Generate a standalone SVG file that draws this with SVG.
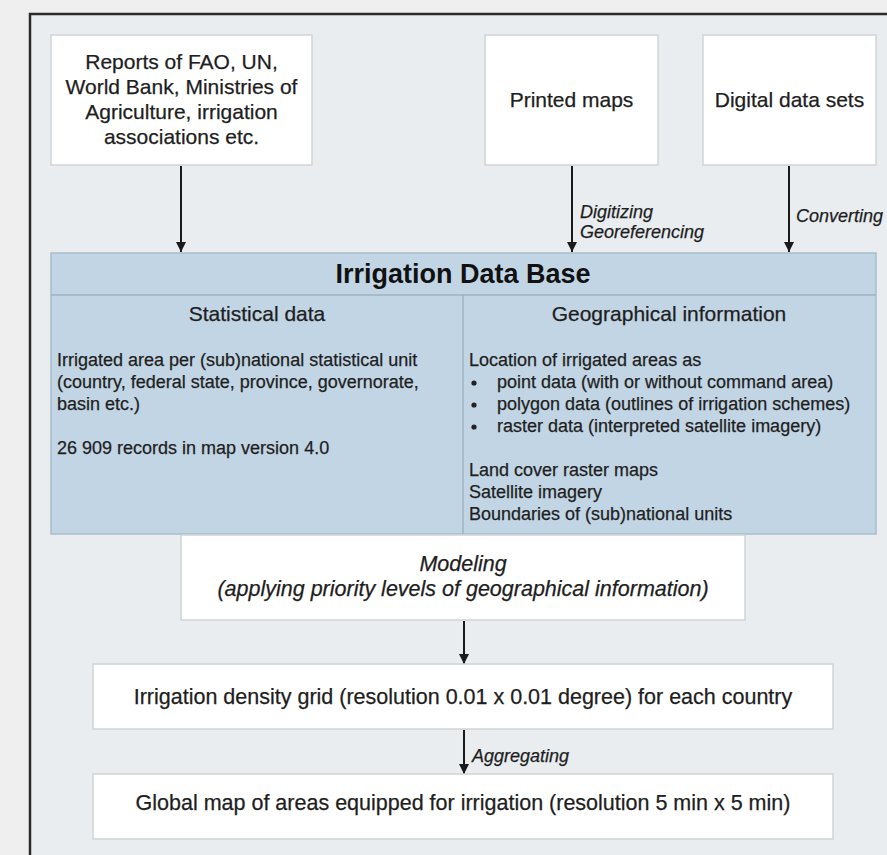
<svg xmlns="http://www.w3.org/2000/svg" width="887" height="855" viewBox="0 0 887 855">
<defs>
<marker id="ah" viewBox="0 0 10 10" refX="10" refY="5" markerWidth="10" markerHeight="10" markerUnits="userSpaceOnUse" orient="auto">
<path d="M0,0 L10,5 L0,10 z" fill="#1a1a1a"/>
</marker>
<style>
text{font-family:"Liberation Sans",Arial,sans-serif;fill:#1e1e1e;stroke:#1e1e1e;stroke-width:0.25}
.box{fill:#ffffff;stroke:#d0d3d6;stroke-width:1.5}
.t21{font-size:21px}
.t215{font-size:21.5px}
.t18{font-size:18px}
.c{text-anchor:middle}
.it{font-style:italic}
.conn{stroke:#1a1a1a;stroke-width:2;fill:none}
</style>
</defs>
<rect x="0" y="0" width="887" height="855" fill="#efefef"/>
<rect x="30" y="14" width="870" height="860" fill="#e9edf0" stroke="#2a2a2a" stroke-width="2.5"/>

<g id="connectors">
<line class="conn" x1="181" y1="166" x2="181" y2="252" marker-end="url(#ah)"/>
<line class="conn" x1="572" y1="166" x2="572" y2="252" marker-end="url(#ah)"/>
<line class="conn" x1="789" y1="166" x2="789" y2="252" marker-end="url(#ah)"/>
<line class="conn" x1="464" y1="621" x2="464" y2="664" marker-end="url(#ah)"/>
<line class="conn" x1="464" y1="730" x2="464" y2="774" marker-end="url(#ah)"/>
<text class="t18 it" x="580" y="218">Digitizing</text>
<text class="t18 it" x="580" y="238">Georeferencing</text>
<text class="t18 it" x="796" y="222">Converting</text>
<text class="t18 it" x="472" y="762">Aggregating</text>
</g>

<g id="reports">
<rect class="box" x="51" y="35" width="261" height="130"/>
<text class="t21 c" x="181.5" y="69">Reports of FAO, UN,</text>
<text class="t21 c" x="181.5" y="94">World Bank, Ministries of</text>
<text class="t21 c" x="181.5" y="119">Agriculture, irrigation</text>
<text class="t21 c" x="181.5" y="144">associations etc.</text>
</g>

<g id="printed-maps">
<rect class="box" x="485" y="35" width="173" height="130"/>
<text class="t21 c" x="571.5" y="107">Printed maps</text>
</g>

<g id="digital-data">
<rect class="box" x="703" y="35" width="173" height="130"/>
<text class="t21 c" x="789.5" y="107">Digital data sets</text>
</g>

<g id="database">
<rect x="51" y="253" width="825" height="281" fill="#c2d5e4" stroke="#a9bccb" stroke-width="1.5"/>
<line x1="51" y1="295" x2="876" y2="295" stroke="#9eb2c2" stroke-width="1.5"/>
<line x1="463" y1="295" x2="463" y2="534" stroke="#9eb2c2" stroke-width="1.5"/>
<text class="c" x="463" y="283" font-size="27" font-weight="bold" style="fill:#111;stroke:none">Irrigation Data Base</text>
<text class="t21 c" x="257" y="321">Statistical data</text>
<text class="t18" x="57" y="366">Irrigated area per (sub)national statistical unit</text>
<text class="t18" x="57" y="388">(country, federal state, province, governorate,</text>
<text class="t18" x="57" y="410">basin etc.)</text>
<text class="t18" x="57" y="454">26 909 records in map version 4.0</text>
<text class="t21 c" x="669" y="321">Geographical information</text>
<text class="t18" x="469" y="366">Location of irrigated areas as</text>
<circle cx="474" cy="383" r="2.6" fill="#222"/>
<circle cx="474" cy="405" r="2.6" fill="#222"/>
<circle cx="474" cy="427" r="2.6" fill="#222"/>
<text class="t18" x="497" y="388">point data (with or without command area)</text>
<text class="t18" x="497" y="410">polygon data (outlines of irrigation schemes)</text>
<text class="t18" x="497" y="432">raster data (interpreted satellite imagery)</text>
<text class="t18" x="469" y="476">Land cover raster maps</text>
<text class="t18" x="469" y="498">Satellite imagery</text>
<text class="t18" x="469" y="520">Boundaries of (sub)national units</text>
</g>

<g id="modeling">
<rect class="box" x="181" y="535" width="564" height="85"/>
<text class="t215 c it" x="463" y="571">Modeling</text>
<text class="t215 c it" x="463" y="596">(applying priority levels of geographical information)</text>
</g>

<g id="density-grid">
<rect class="box" x="93" y="664" width="740" height="65"/>
<text class="t215 c" x="463" y="704">Irrigation density grid (resolution 0.01 x 0.01 degree) for each country</text>
</g>

<g id="global-map">
<rect class="box" x="93" y="774" width="740" height="65"/>
<text class="t215 c" x="463" y="810">Global map of areas equipped for irrigation (resolution 5 min x 5 min)</text>
</g>
</svg>
